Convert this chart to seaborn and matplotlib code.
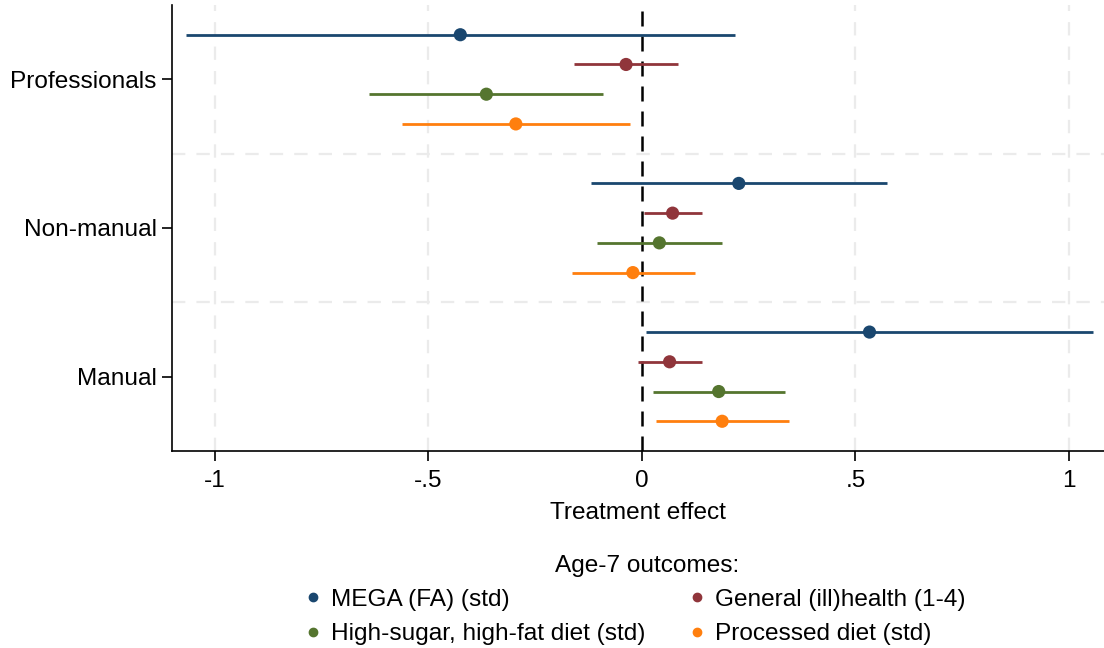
import matplotlib
matplotlib.use("Agg")
import matplotlib.pyplot as plt
from matplotlib.lines import Line2D
import seaborn as sns
import pandas as pd
import numpy as np

sns.set_theme(style="white")
plt.rcParams["font.family"] = ["Liberation Sans", "DejaVu Sans"]
plt.rcParams["text.color"] = "black"
plt.rcParams["xtick.color"] = "black"
plt.rcParams["ytick.color"] = "black"
plt.rcParams["axes.labelcolor"] = "black"

FS = 17.6

groups = ["Professionals", "Non-manual", "Manual"]
outcomes = ["MEGA (FA) (std)", "General (ill)health (1-4)",
            "High-sugar, high-fat diet (std)", "Processed diet (std)"]
colors = ["#1a476f", "#90353b", "#55752f", "#ff7f0e"]

# point estimates and 95% CI bounds, rows = groups, columns = outcomes
estimate = [[-0.425, -0.037, -0.364, -0.295],
            [0.227, 0.072, 0.041, -0.021],
            [0.533, 0.065, 0.180, 0.188]]
ci_low = [[-1.068, -0.160, -0.639, -0.562],
          [-0.118, 0.006, -0.105, -0.164],
          [0.010, -0.010, 0.026, 0.033]]
ci_high = [[0.218, 0.084, -0.090, -0.028],
           [0.574, 0.141, 0.188, 0.124],
           [1.056, 0.141, 0.334, 0.345]]

xticks = [-1, -0.5, 0, 0.5, 1]
xticklabels = ["-1", "-.5", "0", ".5", "1"]

rows = []
for gi, g in enumerate(groups):
    for oi, o in enumerate(outcomes):
        rows.append(dict(group=g, outcome=o, est=estimate[gi][oi],
                         lo=ci_low[gi][oi], hi=ci_high[gi][oi],
                         ypos=gi * 5 + (oi - 1.5)))
df = pd.DataFrame(rows)
palette = dict(zip(outcomes, colors))

fig = plt.figure(figsize=(11.04, 6.48), dpi=100)
ax = fig.add_axes([172 / 1104, 197 / 648, 932 / 1104, 446 / 648])

# grid: dashed light lines at x ticks and between groups
for xv in xticks:
    if xv != 0:
        ax.axvline(xv, color="#ebebeb", lw=1.6, ls=(0, (6, 5)), zorder=0)
for yv in [2.5, 7.5]:
    ax.axhline(yv, color="#ebebeb", lw=1.6, ls=(0, (6, 5)), zorder=0)
ax.axvline(0, color="black", lw=1.8, ls=(0, (6, 4)), zorder=1)

# confidence intervals
for o in outcomes:
    sub = df[df.outcome == o]
    ax.hlines(sub.ypos, sub.lo, sub.hi, color=palette[o], lw=2.0, zorder=2)

sns.scatterplot(data=df, x="est", y="ypos", hue="outcome", palette=palette,
                s=90, edgecolor="none", legend=False, zorder=3, ax=ax)

ax.set_xlim(-1.1, 1.082)
ax.set_ylim(12.5, -2.5)
ax.set_xticks(xticks)
ax.set_xticklabels(xticklabels, fontsize=FS)
ax.set_yticks([0, 5, 10])
ax.set_yticklabels(groups, fontsize=FS)
ax.set_xlabel("Treatment effect", fontsize=FS, labelpad=7)
ax.set_ylabel("")
ax.tick_params(axis="x", which="both", length=7, width=1.2, color="black",
               direction="out", pad=7, bottom=True)
ax.tick_params(axis="y", which="both", length=7, width=1.2, color="black",
               direction="out", pad=4, left=True)
for side in ["top", "right"]:
    ax.spines[side].set_visible(False)
for side in ["left", "bottom"]:
    ax.spines[side].set_color("black")
    ax.spines[side].set_linewidth(1.2)
ax.grid(False)

# legend title sits over the centre of the plot region
fig.text(647 / 1104, 1 - 566 / 648, "Age-7 outcomes:", fontsize=FS,
         ha="center", va="center")

order = [0, 2, 1, 3]
handles = [Line2D([], [], marker="o", ls="none", color=colors[i], markersize=6,
                  label=outcomes[i]) for i in order]
leg = fig.legend(handles=handles, loc="upper center", ncol=2,
                 bbox_to_anchor=(0.5735, 0.0915), frameon=False, fontsize=FS,
                 handletextpad=0.25, columnspacing=1.6, labelspacing=0.5,
                 handlelength=1.0, borderaxespad=0.0, borderpad=0.0)

fig.savefig("out.png", dpi=100)
